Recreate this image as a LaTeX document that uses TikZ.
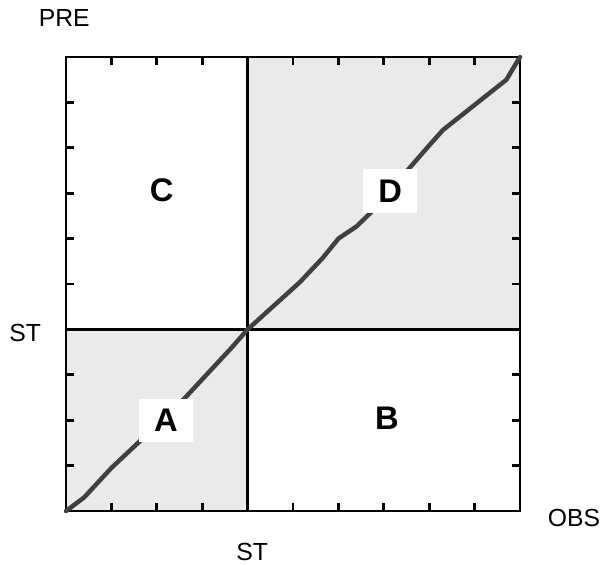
\documentclass[tikz,border=0pt]{standalone}
\usepackage{fontspec}
\setmainfont{Liberation Sans}
\usetikzlibrary{positioning}
\definecolor{quadgray}{HTML}{EAEAEA}
\definecolor{curvegray}{HTML}{404040}

\begin{document}
\begin{tikzpicture}[
    axislabel/.style={font=\fontsize{15.5}{18}\selectfont},
    quadlabel/.style={font=\fontsize{20.5}{24}\selectfont\bfseries, inner sep=0pt},
    tagbox/.style={quadlabel, fill=white, minimum width=1.19cm, minimum height=0.95cm}
  ]
  \useasboundingbox (-1.454,-1.167) rectangle (11.872,11.256);
  % shaded quadrants
  \fill[quadgray] (0,0) rectangle (4,4);
  \fill[quadgray] (4,4) rectangle (10,10);
  % ticks
  \foreach \t in {1,...,9} {
    \draw[line width=1.7pt] (\t,0) -- (\t,0.18);
    \draw[line width=1.7pt] (\t,10) -- (\t,9.82);
    \draw[line width=1.7pt] (0,\t) -- (0.18,\t);
    \draw[line width=1.7pt] (10,\t) -- (9.82,\t);
  }
  % threshold lines
  \draw[line width=1.7pt] (4,0) -- (4,10);
  \draw[line width=1.7pt] (0,4) -- (10,4);
  \draw[line width=1.7pt] (0,0) rectangle (10,10);
  % curve
  \draw[curvegray, line width=2.8pt, line join=round, line cap=round]
    (0,0) -- (0.4,0.3) -- (1,0.95) -- (1.65,1.56) -- (2.6,2.47) -- (3.65,3.6)
    -- (4,4) -- (5.15,5.04) -- (5.65,5.57) -- (6,6) -- (6.4,6.27) -- (6.7,6.56)
    -- (7.97,8.02) -- (8.3,8.39) -- (9.7,9.5) -- (9.89,9.82) -- (10,10);
  % quadrant labels
  \node[tagbox] (qa) at (2.20,2.00) {A};
  \node[tagbox] (qd) at (7.14,7.05) {D};
  \node[quadlabel] (qc) at (2.11,7.07) {C};
  \node[quadlabel] (qb) at (7.07,2.05) {B};
  % axis labels
  \node[axislabel] (pre) at (-0.04,10.86) {PRE};
  \node[axislabel] (obs) at (11.19,-0.15) {OBS};
  \node[axislabel] (sty) at (-0.90,3.92) {ST};
  \node[axislabel] (stx) at (4.10,-0.90) {ST};
\end{tikzpicture}
\end{document}
